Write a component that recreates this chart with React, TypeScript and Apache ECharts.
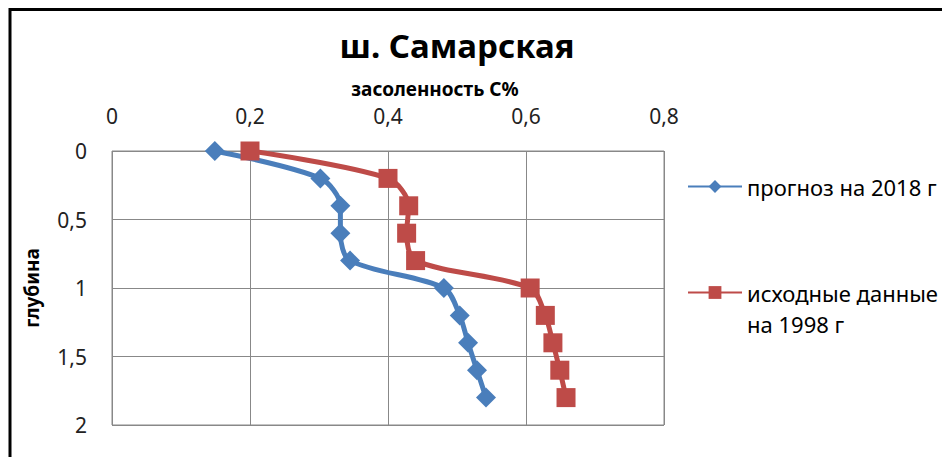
import React, { useEffect, useRef } from "react";
import * as echarts from "echarts";

const depths = [0, 0.2, 0.4, 0.6, 0.8, 1.0, 1.2, 1.4, 1.6, 1.8];
const forecast2018 = [0.149, 0.302, 0.331, 0.331, 0.345, 0.481, 0.504, 0.516, 0.529, 0.542];
const initial1998 = [0.2, 0.4, 0.43, 0.427, 0.44, 0.606, 0.628, 0.639, 0.649, 0.658];
const seriesNames = ["прогноз на 2018 г", "исходные данные на 1998 г"];
const titleText = "ш. Самарская";
const xAxisName = "засоленность С%";
const yAxisName = "глубина";

const FONT = "'Noto Sans', 'Open Sans', sans-serif";
const fmt = (v: number) => String(Math.round(v * 10) / 10).replace(".", ",");

export default function App() {
  const ref = useRef<HTMLDivElement>(null);
  useEffect(() => {
    document.body.style.margin = "0";
    const chart = echarts.init(ref.current!, null, { renderer: "svg" });
    chart.setOption({
      animation: false,
      backgroundColor: "#fff",
      title: {
        text: titleText,
        left: 452,
        top: 24,
        textAlign: "center",
        textStyle: { fontFamily: FONT, fontSize: 33, fontWeight: "bold", color: "#000" },
      },
      graphic: [
        {
          type: "rect",
          shape: { x: 10, y: 9.5, width: 1000, height: 1000 },
          style: { fill: "none", stroke: "#000", lineWidth: 3 },
          silent: true,
        },
      ],
      legend: {
        orient: "vertical",
        left: 682,
        top: 166,
        itemWidth: 54,
        itemHeight: 16,
        itemGap: 44,
        selectedMode: false,
        textStyle: { fontFamily: FONT, fontSize: 22, color: "#000", lineHeight: 31 },
        data: [{ name: seriesNames[0] }, { name: seriesNames[1] }],
        formatter: (n: string) => (n === seriesNames[1] ? "\nисходные данные\nна 1998 г" : n),
      },
      grid: {
        left: 112,
        top: 151,
        right: 278,
        bottom: 32,
        show: true,
        borderColor: "#888",
        borderWidth: 1,
      },
      xAxis: {
        type: "value",
        position: "top",
        min: 0,
        max: 0.8,
        interval: 0.2,
        name: xAxisName,
        nameLocation: "middle",
        nameGap: 53,
        nameTextStyle: {
          fontFamily: FONT,
          fontSize: 19,
          fontWeight: "bold",
          color: "#000",
          padding: [0, 0, 0, 94],
        },
        axisLine: { show: false },
        axisTick: { show: false },
        axisLabel: {
          margin: 25,
          formatter: fmt,
          fontFamily: FONT,
          fontSize: 21,
          color: "#222",
        },
        splitLine: { show: true, lineStyle: { color: "#888", width: 1 } },
      },
      yAxis: {
        type: "value",
        inverse: true,
        min: 0,
        max: 2,
        interval: 0.5,
        name: yAxisName,
        nameLocation: "middle",
        nameRotate: 90,
        nameGap: 71,
        nameTextStyle: { fontFamily: FONT, fontSize: 19, fontWeight: "bold", color: "#000" },
        axisLine: { show: false },
        axisTick: { show: false },
        axisLabel: {
          margin: 25,
          formatter: fmt,
          fontFamily: FONT,
          fontSize: 21,
          color: "#222",
        },
        splitLine: { show: true, lineStyle: { color: "#888", width: 1 } },
      },
      series: [
        {
          name: seriesNames[0],
          type: "line",
          smooth: 0.3,
          symbol: "diamond",
          symbolSize: [20, 20],
          data: depths.map((d, i) => [forecast2018[i], d]),
          lineStyle: { color: "#4A7EBB", width: 5 },
          itemStyle: { color: "#4A7EBB" },
        },
        {
          name: seriesNames[1],
          type: "line",
          smooth: 0.3,
          symbol: "rect",
          symbolSize: [19, 19],
          data: depths.map((d, i) => [initial1998[i], d]),
          lineStyle: { color: "#BE4B48", width: 5 },
          itemStyle: { color: "#BE4B48" },
        },
      ],
    });
    return () => chart.dispose();
  }, []);
  return <div ref={ref} style={{ width: 942, height: 457 }} />;
}
